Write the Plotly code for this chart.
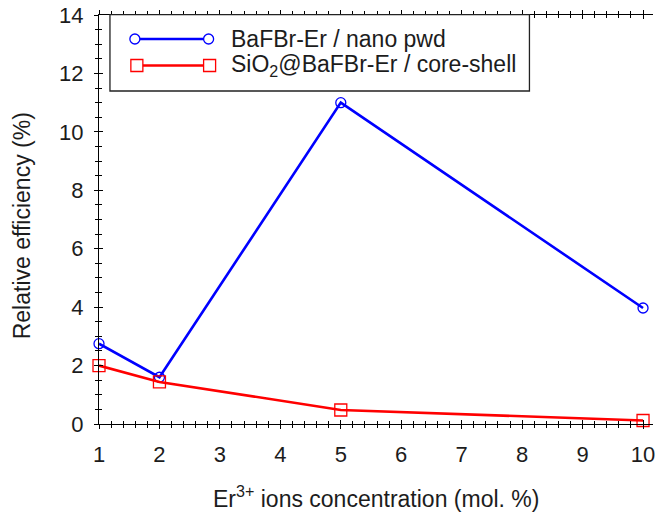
import plotly.graph_objects as go

# ---- data ----
conc = [1, 2, 5, 10]
nano_pwd = [2.75, 1.6, 11.0, 3.97]
core_shell = [2.0, 1.44, 0.48, 0.12]
name_nano = "BaFBr-Er / nano pwd"
name_core = "SiO<sub>2</sub>@BaFBr-Er / core-shell"
x_title = "Er<sup>3+</sup> ions concentration (mol. %)"
y_title = "Relative efficiency (%)"
x_ticks = [1, 2, 3, 4, 5, 6, 7, 8, 9, 10]
y_ticks = [0, 2, 4, 6, 8, 10, 12, 14]

W, H = 655, 512
L, R, T, B = 99, 0, 15, 88
PW, PH = W - L - R, H - T - B
XMIN, XMAX = 1, 10.165
YMIN, YMAX = 0, 14

FONT = "Liberation Sans, Arial, sans-serif"
TXT = "#1c1c1c"
BLUE = "#0000ff"
RED = "#ff0000"

def px(xp):
    return (xp - L) / PW

def py(yp):
    return 1 - (yp - T) / PH

fig = go.Figure()
fig.add_trace(go.Scatter(
    x=conc, y=nano_pwd, mode="lines+markers", name=name_nano,
    line=dict(color=BLUE, width=2.6),
    marker=dict(symbol="circle-open", size=10, color=BLUE, line=dict(width=1.3)),
    showlegend=False, cliponaxis=False))
fig.add_trace(go.Scatter(
    x=conc, y=core_shell, mode="lines+markers", name=name_core,
    line=dict(color=RED, width=2.6),
    marker=dict(symbol="square-open", size=12, color=RED, line=dict(width=1.3)),
    showlegend=False, cliponaxis=False))

common = dict(linecolor="black", linewidth=1.3, tickcolor="black", tickwidth=1.3,
              showgrid=False, zeroline=False, fixedrange=True)
xminor = dict(dtick=0.2, ticklen=3, tickcolor="black", tickwidth=1, showgrid=False)
yminor = dict(dtick=0.5, ticklen=3, tickcolor="black", tickwidth=1, showgrid=False)

fig.update_layout(
    width=W, height=H, margin=dict(l=L, r=R, t=T, b=B),
    paper_bgcolor="white", plot_bgcolor="white",
    font=dict(family=FONT, color=TXT, size=22),
    xaxis=dict(range=[XMIN, XMAX], tickvals=x_ticks, ticks="outside", ticklen=4,
               showline=True, showticklabels=True, ticklabelstandoff=6,
               ticklabeloverflow="allow",
               tickfont=dict(size=22, color=TXT, family=FONT),
               minor=dict(ticks="outside", **xminor), **common),
    xaxis3=dict(range=[XMIN, XMAX], overlaying="x", side="bottom", anchor="y",
                tickvals=x_ticks, ticks="inside", ticklen=4, showline=False,
                showticklabels=False, minor=dict(ticks="inside", **xminor), **common),
    xaxis2=dict(range=[XMIN, XMAX], overlaying="x", side="top", anchor="y",
                tickvals=x_ticks, ticks="outside", ticklen=4, showline=True,
                showticklabels=False, minor=dict(ticks="outside", **xminor), **common),
    xaxis4=dict(range=[XMIN, XMAX], overlaying="x", side="top", anchor="y",
                tickvals=x_ticks, ticks="inside", ticklen=4, showline=False,
                showticklabels=False, minor=dict(ticks="inside", **xminor), **common),
    yaxis=dict(range=[YMIN, YMAX], tickvals=y_ticks, ticks="outside", ticklen=4,
               showline=True, showticklabels=True, ticklabelstandoff=6,
               tickfont=dict(size=22, color=TXT, family=FONT),
               minor=dict(ticks="outside", **yminor), **common),
    yaxis2=dict(range=[YMIN, YMAX], overlaying="y", side="left", anchor="x",
                tickvals=y_ticks, ticks="inside", ticklen=4, showline=False,
                showticklabels=False, minor=dict(ticks="inside", **yminor), **common),
)

# invisible traces so the overlay axes are drawn
for xa, ya in [("x2", "y"), ("x3", "y"), ("x4", "y"), ("x", "y2")]:
    fig.add_trace(go.Scatter(x=conc, y=nano_pwd, xaxis=xa, yaxis=ya, mode="lines",
                             line=dict(width=0), opacity=0, hoverinfo="skip",
                             showlegend=False))

# ---- manual legend (Origin style) ----
lx0, lx1, ly0, ly1 = 110, 531, 14.7, 91
fig.add_shape(type="rect", xref="paper", yref="paper",
              x0=px(lx0), x1=px(lx1), y0=py(ly1), y1=py(ly0),
              fillcolor="white", line=dict(color="#222", width=1.3), layer="above")

entries = [(name_nano, BLUE, "circle", 5, 39, 135, 209),
           (name_core, RED, "rect", 6, 65.5, 137, 210)]
for name, col, kind, half, yy, xa, xb in entries:
    fig.add_shape(type="line", xref="paper", yref="paper",
                  x0=px(xa), x1=px(xb), y0=py(yy), y1=py(yy),
                  line=dict(color=col, width=2.6), layer="above")
    for xm in (xa, xb):
        fig.add_shape(type=kind, xref="paper", yref="paper",
                      xsizemode="pixel", ysizemode="pixel",
                      xanchor=px(xm), yanchor=py(yy),
                      x0=-half, x1=half, y0=-half, y1=half,
                      fillcolor="white", line=dict(color=col, width=1.3), layer="above")
    fig.add_annotation(xref="paper", yref="paper", x=px(229), y=py(yy),
                       xanchor="left", yanchor="middle", showarrow=False,
                       text=name, font=dict(size=23, color=TXT, family=FONT))

# ---- axis titles ----
fig.add_annotation(xref="paper", yref="paper", x=px(377), y=py(497),
                   xanchor="center", yanchor="middle", showarrow=False,
                   text=x_title, font=dict(size=23, color=TXT, family=FONT))
fig.add_annotation(xref="paper", yref="paper", x=px(22), y=py(226),
                   xanchor="center", yanchor="middle", showarrow=False, textangle=-90,
                   text=y_title, font=dict(size=23, color=TXT, family=FONT))

fig.write_html("out.html")
